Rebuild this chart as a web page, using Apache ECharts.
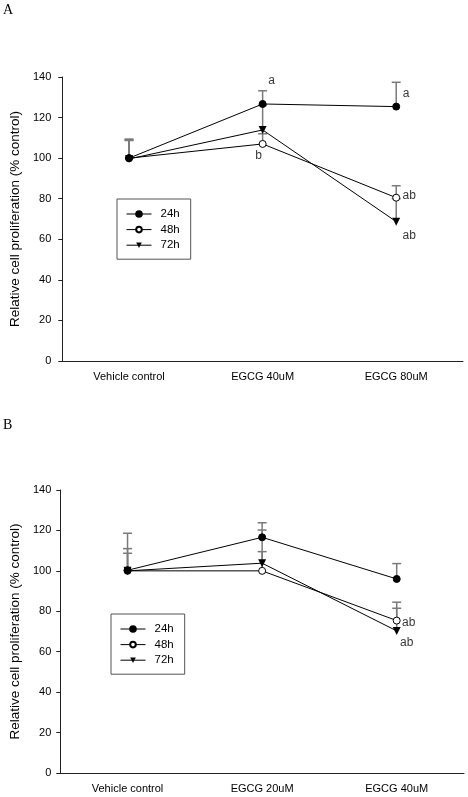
<!DOCTYPE html>
<html><head><meta charset="utf-8">
<script src="https://cdn.jsdelivr.net/npm/echarts@6/dist/echarts.min.js"></script>
<style>html,body{margin:0;padding:0;background:#fff}#c{width:468px;height:797px}</style>
</head><body><div id="c"></div>
<script>
// ---------- data ----------
const seriesNames = ['24h', '48h', '72h'];
const catsA = ['Vehicle control', 'EGCG 40uM', 'EGCG 80uM'];
const catsB = ['Vehicle control', 'EGCG 20uM', 'EGCG 40uM'];
const yMin = 0, yMax = 140, yStep = 20;

// Panel A means and upper error ends (mean + SD)
const A24 = [100, 126.7, 125.4];
const A48 = [100, 107.0, 80.5];
const A72 = [99.6, 113.9, 68.7];
const A24up = [109.4, 133.2, 137.4];
const A48up = [108.7, 112.0, 86.4];
const A72up = [109.1, 126.0, 80.0];

// Panel B
const B24 = [100.3, 116.6, 96.0];
const B48 = [100, 100.0, 75.4];
const B72 = [100, 103.8, 70.3];
const B24up = [118.6, 123.8, 103.6];
const B48up = [111.0, 120.2, 84.5];
const B72up = [108.7, 109.5, 81.5];

// significance letters: [category, y value, text]
const annA = [['EGCG 40uM', 138.0, 'a'], ['EGCG 80uM', 131.6, 'a'], ['EGCG 40uM', 101.2, 'b'], ['EGCG 80uM', 81.3, 'ab'], ['EGCG 80uM', 61.6, 'ab']];
const annB = [['EGCG 40uM', 74.4, 'ab'], ['EGCG 40uM', 64.5, 'ab']];
// ---------- style ----------
const annADx = [9, 10, -4, 13, 13];
const annBDx = [12, 10];
const FONT = 'Liberation Sans, Arial, sans-serif';

function errRender(params, api) {
  const x = api.value(0), lo = api.value(1), hi = api.value(2);
  const p0 = api.coord([x, lo]), p1 = api.coord([x, hi]);
  const w = 4.5;
  const st = { stroke: '#7a7a7a', lineWidth: 1.5 };
  return { type: 'group', children: [
    { type: 'line', shape: { x1: p0[0], y1: p0[1], x2: p1[0], y2: p1[1] }, style: st },
    { type: 'line', shape: { x1: p1[0] - w, y1: p1[1], x2: p1[0] + w, y2: p1[1] }, style: st }
  ] };
}

const symbolStyles = [
  { symbol: 'circle', symbolSize: 7, z: 4, itemStyle: { color: '#000', borderColor: '#000', borderWidth: 1 } },
  { symbol: 'circle', symbolSize: 7, z: 3, itemStyle: { color: '#fff', borderColor: '#000', borderWidth: 1 } },
  { symbol: 'triangle', symbolSize: 8, z: 5, symbolRotate: 180, itemStyle: { color: '#000', borderColor: '#000', borderWidth: 0 } }
];

function panelSeries(idx, cats, means, ups, ann, annDx) {
  const out = [];
  means.forEach((m, k) => {
    out.push({
      type: 'custom', name: 'err' + k, xAxisIndex: idx, yAxisIndex: idx, z: 1,
      renderItem: errRender,
      data: cats.map((c, i) => [i, m[i], ups[k][i]])
    });
  });
  means.forEach((m, k) => {
    out.push(Object.assign({
      type: 'line', name: seriesNames[k], xAxisIndex: idx, yAxisIndex: idx,
      data: m, lineStyle: { color: '#000', width: 1 }
    }, symbolStyles[k]));
  });
  out.push({
    type: 'scatter', name: 'ann', xAxisIndex: idx, yAxisIndex: idx, z: 6,
    symbolSize: 0,
    data: ann.map((a, i) => ({
      value: [a[0], a[1]],
      label: { show: true, position: 'inside', formatter: a[2], offset: [annDx[i], 0], color: '#000', fontSize: 12, fontFamily: FONT }
    }))
  });
  return out;
}

function xAx(idx, cats) {
  return {
    type: 'category', gridIndex: idx, data: cats, boundaryGap: true,
    axisLine: { lineStyle: { color: '#222', width: 1 } },
    axisTick: { alignWithLabel: true, length: 4, lineStyle: { color: '#222' } },
    axisLabel: { color: '#000', fontSize: 11, fontFamily: FONT, margin: 10 },
    splitLine: { show: false }
  };
}
function yAx(idx, nameGap, labelMargin) {
  return {
    type: 'value', gridIndex: idx, min: yMin, max: yMax, interval: yStep,
    name: 'Relative cell proliferation (% control)', nameLocation: 'middle', nameGap: nameGap,
    nameTextStyle: { color: '#000', fontSize: 13.5, fontFamily: FONT },
    axisLine: { show: true, lineStyle: { color: '#222', width: 1 } },
    axisTick: { show: true, length: 4, lineStyle: { color: '#222' } },
    axisLabel: { color: '#000', fontSize: 11, fontFamily: FONT, margin: labelMargin },
    splitLine: { show: false }
  };
}
function legendAt(left, top) {
  return {
    data: seriesNames, orient: 'vertical', left: left, top: top,
    itemWidth: 25, itemHeight: 7, itemGap: 3.6,
    borderColor: '#555', borderWidth: 1, borderRadius: 0,
    padding: [9, 11, 8, 9],
    lineStyle: { width: 1 },
    textStyle: { color: '#000', fontSize: 11.5, fontFamily: FONT, padding: [0, 0, 0, 4] },
    selectedMode: false
  };
}

const chart = echarts.init(document.getElementById('c'), null, { renderer: 'canvas' });
chart.setOption({
  animation: false,
  backgroundColor: '#fff',
  title: [
    { text: 'A', left: 3, top: 3, padding: 0, textStyle: { fontFamily: 'Liberation Serif, serif', fontSize: 14, fontWeight: 'normal', color: '#000' } },
    { text: 'B', left: 3, top: 418, padding: 0, textStyle: { fontFamily: 'Liberation Serif, serif', fontSize: 14, fontWeight: 'normal', color: '#000' } }
  ],
  legend: [legendAt(117, 199), legendAt(111, 614)],
  grid: [
    { left: 57, right: 5, top: 77, bottom: 436, containLabel: false },
    { left: 58, right: 4, top: 490, bottom: 24, containLabel: false }
  ],
  xAxis: [xAx(0, catsA), xAx(1, catsB)],
  yAxis: [yAx(0, 35, 11), yAx(1, 33, 9)],
  series: [].concat(
    panelSeries(0, catsA, [A24, A48, A72], [A24up, A48up, A72up], annA, annADx),
    panelSeries(1, catsB, [B24, B48, B72], [B24up, B48up, B72up], annB, annBDx)
  )
});
</script>
</body></html>
